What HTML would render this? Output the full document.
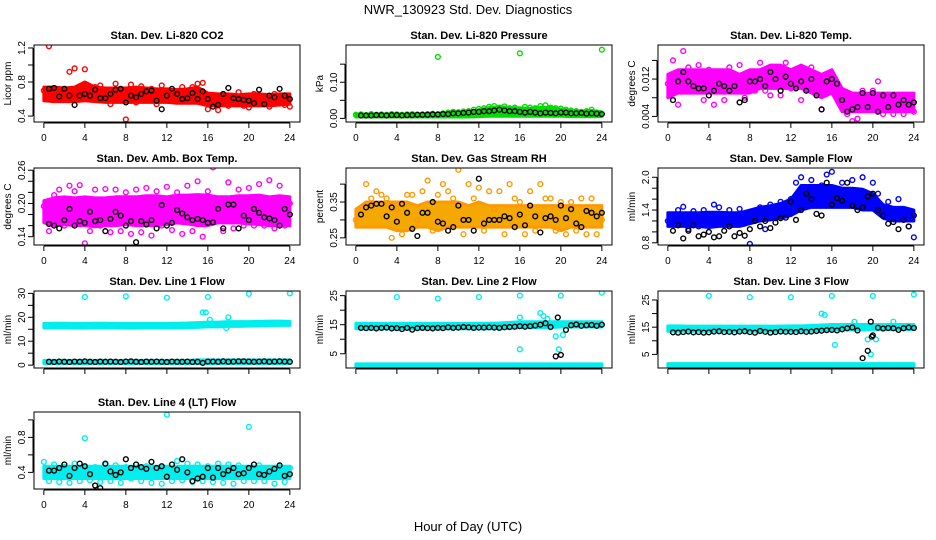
<!DOCTYPE html>
<html><head><meta charset="utf-8"><style>
html,body{margin:0;padding:0;background:#fff;}
svg{display:block;font-family:"Liberation Sans",Arial,sans-serif;}
</style></head><body>
<svg id="chart" width="936" height="540" viewBox="0 0 936 540" xmlns="http://www.w3.org/2000/svg">
<text x="468" y="14" text-anchor="middle" font-size="13">NWR_130923  Std. Dev. Diagnostics</text>
<text x="468" y="531" text-anchor="middle" font-size="13">Hour of Day (UTC)</text>
</svg>
<script>
// ---------- data ----------
const xTicks = [0,4,8,12,16,20,24];

const co2Lo = [0.58,0.57,0.57,0.57,0.58,0.57,0.56,0.56,0.56,0.56,0.56,0.56,0.56,0.55,0.55,0.55,0.52,0.52,0.52,0.52,0.52,0.52,0.52,0.53,0.54];
const co2Hi = [0.74,0.74,0.73,0.74,0.80,0.74,0.73,0.73,0.73,0.74,0.73,0.72,0.72,0.71,0.72,0.74,0.67,0.66,0.66,0.65,0.66,0.66,0.65,0.66,0.66];
const co2Pts = [0.70,1.22,0.62,0.66,0.72,0.92,0.96,0.70,0.95,0.66,0.74,0.76,0.60,0.54,0.78,0.69,0.36,0.77,0.56,0.75,0.63,0.72,0.54,0.76,0.70,0.66,0.59,0.74,0.62,0.74,0.78,0.79,0.48,0.62,0.47,0.58,0.52,0.62,0.68,0.52,0.50,0.66,0.58,0.62,0.51,0.66,0.56,0.53,0.51];
const co2Black = [0.72,0.73,0.63,0.72,0.64,0.53,0.64,0.66,0.64,0.71,0.61,0.61,0.66,0.71,0.72,0.56,0.64,0.62,0.66,0.69,0.70,0.58,0.48,0.64,0.72,0.66,0.60,0.61,0.67,0.60,0.69,0.60,0.51,0.53,0.66,0.73,0.61,0.60,0.59,0.58,0.55,0.71,0.54,0.64,0.62,0.72,0.64,0.60];

const presLo = [0.004,0.004,0.004,0.004,0.004,0.004,0.004,0.004,0.004,0.004,0.004,0.004,0.005,0.006,0.006,0.006,0.006,0.006,0.006,0.006,0.006,0.005,0.005,0.005,0.005];
const presHi = [0.012,0.012,0.012,0.012,0.012,0.012,0.012,0.013,0.014,0.016,0.018,0.020,0.024,0.030,0.032,0.030,0.029,0.028,0.030,0.030,0.026,0.022,0.020,0.022,0.018];
const presPts = [0.010,0.011,0.009,0.012,0.010,0.011,0.010,0.012,0.011,0.010,0.011,0.012,0.010,0.011,0.012,0.013,0.17,0.014,0.016,0.018,0.017,0.019,0.020,0.024,0.026,0.028,0.032,0.034,0.030,0.033,0.028,0.030,0.18,0.032,0.030,0.028,0.034,0.036,0.030,0.028,0.027,0.024,0.022,0.020,0.018,0.020,0.024,0.016,0.19];
const presBlack = [0.008,0.008,0.008,0.009,0.009,0.008,0.009,0.009,0.008,0.009,0.009,0.010,0.010,0.010,0.011,0.011,0.012,0.012,0.014,0.014,0.015,0.016,0.018,0.018,0.020,0.020,0.022,0.024,0.022,0.020,0.020,0.018,0.016,0.018,0.016,0.014,0.016,0.015,0.014,0.016,0.016,0.014,0.014,0.015,0.013,0.014,0.013,0.012];

const tempLo = [0.008,0.009,0.009,0.009,0.009,0.009,0.009,0.009,0.009,0.010,0.010,0.010,0.010,0.010,0.009,0.008,0.009,0.005,0.005,0.005,0.005,0.005,0.005,0.005,0.005];
const tempHi = [0.013,0.014,0.014,0.014,0.014,0.014,0.014,0.013,0.014,0.014,0.015,0.015,0.014,0.015,0.014,0.013,0.014,0.010,0.009,0.009,0.009,0.009,0.009,0.009,0.009];
const tempPts = [0.011,0.016,0.0065,0.018,0.0145,0.013,0.015,0.0075,0.014,0.0065,0.012,0.0075,0.0145,0.011,0.015,0.008,0.0125,0.0095,0.0155,0.0095,0.0085,0.0145,0.0085,0.0155,0.010,0.0125,0.0075,0.012,0.0145,0.0085,0.0055,0.009,0.011,0.008,0.0065,0.0045,0.0030,0.0035,0.0095,0.0055,0.0095,0.0115,0.0045,0.0065,0.0045,0.0075,0.0045,0.0065,0.0050];
const tempBlack = [0.0075,0.0115,0.0135,0.0115,0.0105,0.010,0.010,0.0085,0.0095,0.011,0.0105,0.0095,0.0105,0.007,0.0075,0.0115,0.0115,0.012,0.0105,0.0135,0.012,0.0095,0.0125,0.011,0.010,0.0115,0.0095,0.0120,0.0085,0.0055,0.0115,0.0120,0.0110,0.0075,0.0050,0.0055,0.0060,0.0090,0.0060,0.0090,0.0050,0.0085,0.0060,0.0085,0.0065,0.0075,0.0065,0.0070];

const ambLo = [0.165,0.160,0.162,0.160,0.160,0.158,0.160,0.160,0.162,0.160,0.160,0.160,0.162,0.165,0.163,0.160,0.160,0.165,0.165,0.165,0.163,0.162,0.160,0.160,0.160];
const ambHi = [0.205,0.210,0.212,0.210,0.212,0.210,0.210,0.212,0.212,0.212,0.214,0.214,0.212,0.215,0.215,0.216,0.215,0.212,0.212,0.214,0.214,0.215,0.212,0.214,0.212];
const ambPts = [0.195,0.150,0.215,0.225,0.160,0.232,0.222,0.233,0.128,0.150,0.225,0.160,0.226,0.148,0.225,0.150,0.220,0.145,0.225,0.148,0.228,0.142,0.222,0.160,0.230,0.152,0.220,0.145,0.232,0.150,0.240,0.140,0.222,0.265,0.170,0.150,0.238,0.155,0.225,0.160,0.228,0.160,0.235,0.160,0.242,0.155,0.232,0.160,0.200];
const ambBlack = [0.163,0.160,0.155,0.170,0.190,0.160,0.168,0.165,0.185,0.168,0.170,0.150,0.172,0.185,0.178,0.160,0.168,0.130,0.168,0.162,0.170,0.155,0.197,0.160,0.165,0.188,0.182,0.175,0.170,0.172,0.170,0.165,0.166,0.190,0.155,0.198,0.198,0.155,0.178,0.170,0.190,0.183,0.175,0.173,0.170,0.160,0.190,0.180];

const rhLo = [0.28,0.28,0.28,0.28,0.27,0.27,0.28,0.28,0.27,0.28,0.28,0.28,0.28,0.28,0.28,0.28,0.28,0.28,0.28,0.28,0.27,0.28,0.28,0.28,0.28];
const rhHi = [0.33,0.35,0.35,0.35,0.35,0.35,0.34,0.35,0.35,0.35,0.35,0.34,0.35,0.34,0.34,0.34,0.34,0.34,0.34,0.34,0.34,0.34,0.34,0.34,0.34];
const rhPts = [0.30,0.33,0.40,0.36,0.38,0.37,0.36,0.25,0.33,0.26,0.37,0.37,0.30,0.38,0.41,0.27,0.37,0.40,0.38,0.36,0.44,0.26,0.40,0.36,0.39,0.27,0.38,0.33,0.38,0.26,0.40,0.36,0.35,0.26,0.38,0.27,0.40,0.36,0.36,0.27,0.35,0.26,0.35,0.27,0.36,0.26,0.36,0.26,0.30];
const rhBlack = [0.315,0.335,0.340,0.345,0.345,0.31,0.335,0.295,0.345,0.32,0.275,0.255,0.32,0.32,0.35,0.295,0.29,0.27,0.28,0.34,0.30,0.30,0.27,0.415,0.29,0.30,0.30,0.30,0.31,0.305,0.28,0.315,0.285,0.34,0.31,0.265,0.305,0.31,0.30,0.34,0.305,0.33,0.29,0.28,0.325,0.32,0.31,0.32];

const flowLo = [1.10,1.10,1.10,1.10,1.08,1.10,1.10,1.10,1.15,1.20,1.22,1.25,1.30,1.40,1.45,1.45,1.45,1.45,1.45,1.40,1.40,1.25,1.20,1.20,1.20];
const flowHi = [1.35,1.35,1.35,1.35,1.36,1.36,1.35,1.35,1.40,1.45,1.48,1.52,1.60,1.85,1.85,1.85,1.85,1.80,1.80,1.78,1.70,1.50,1.45,1.45,1.40];
const flowPts = [1.20,1.30,1.40,1.46,1.05,1.38,1.10,1.40,1.12,1.50,1.45,1.20,1.40,1.18,1.42,1.15,0.78,1.30,1.45,1.05,1.50,1.25,1.55,1.30,1.60,1.90,2.00,1.50,1.95,1.60,1.85,2.05,2.10,1.60,1.90,1.70,1.95,1.55,2.00,1.50,1.90,1.70,1.30,1.55,1.40,1.60,1.30,1.10,0.90];
const flowBlack = [1.02,1.12,0.88,1.02,1.12,0.92,0.95,1.00,0.90,0.92,1.02,1.10,0.92,0.98,0.93,1.05,1.20,1.10,1.20,1.07,1.17,1.25,1.26,1.55,1.22,1.40,1.70,1.60,1.33,1.30,1.90,1.50,1.62,1.57,1.90,1.48,1.40,1.45,1.65,1.70,1.40,1.30,1.15,1.18,1.05,1.22,1.10,1.30];

const l1Lo = [15.6,15.6,15.6,15.5,15.5,15.6,15.6,15.6,15.5,15.5,15.6,15.6,15.6,15.6,15.7,15.8,16.0,16.0,16.2,16.2,16.3,16.4,16.5,16.6,16.6];
const l1Hi = [17.4,17.5,17.5,17.4,17.4,17.5,17.5,17.4,17.4,17.4,17.4,17.4,17.4,17.5,17.6,17.8,18.0,18.0,18.2,18.2,18.2,18.3,18.4,18.4,18.3];
const l1BaseLo = [0.7,0.7,0.7,0.7,0.7,0.7,0.7,0.7,0.7,0.7,0.7,0.7,0.7,0.7,0.7,0.7,0.7,0.7,0.7,0.7,0.7,0.7,0.7,0.7,0.7];
const l1BaseHi = [2.0,2.0,2.0,2.0,2.0,2.0,2.0,2.0,2.0,2.0,2.0,2.0,2.0,2.0,2.0,2.2,2.2,2.2,2.2,2.2,2.2,2.2,2.2,2.2,2.2];
const l1OutH = [4,8,12,15.5,15.8,16,16.2,17.8,18,20,24];
const l1OutV = [28.5,28.8,28.2,22,22,28.5,19,15.5,20,29.8,30];
const l1Black = [1.4,1.3,1.5,1.4,1.3,1.5,1.4,1.6,1.4,1.3,1.5,1.4,1.5,1.4,1.3,1.5,1.6,1.4,1.3,1.5,1.4,1.5,1.4,1.3,1.5,1.4,1.4,1.5,1.3,1.4,0.9,1.5,1.5,1.4,1.6,1.4,1.5,1.6,1.6,1.5,1.4,1.5,1.6,1.4,1.5,1.6,1.5,1.4];

const l2Lo = [13.6,13.6,13.6,13.6,13.6,13.6,13.6,13.6,13.6,13.6,13.6,13.6,13.6,13.6,13.7,13.8,14.0,14.0,14.0,14.0,14.2,14.2,14.2,14.2,14.2];
const l2Hi = [15.5,15.4,15.4,15.4,15.4,15.4,15.4,15.4,15.4,15.4,15.4,15.4,15.5,15.5,15.6,15.8,16.0,16.0,16.0,16.0,16.0,16.0,16.0,16.0,16.0];
const l2BaseLo = [0.6,0.6,0.6,0.6,0.6,0.6,0.6,0.6,0.6,0.6,0.6,0.6,0.6,0.6,0.6,0.6,0.6,0.6,0.6,0.6,0.6,0.6,0.6,0.6,0.6];
const l2BaseHi = [1.5,1.5,1.5,1.5,1.5,1.5,1.5,1.5,1.5,1.5,1.5,1.5,1.5,1.5,1.5,1.5,1.5,1.5,1.5,1.5,1.5,1.5,1.5,1.5,1.5];
const l2OutH = [4,8,12,16,16,16,18,18.3,18.7,19.5,19.8,20,20.2,24];
const l2OutV = [24.5,24,24.5,25,17.5,6.5,19,18,17,11,6.5,25,11.5,26];
const l2Black = [13.9,13.8,13.9,13.7,13.9,14.0,13.7,13.8,13.5,13.9,13.3,13.8,13.9,13.8,13.7,13.9,13.8,14.1,13.9,14.0,14.2,14.1,13.9,14.0,14.0,14.1,14.0,13.9,14.1,14.2,14.3,14.5,14.3,14.5,14.7,15.0,15.5,14.2,4.1,4.6,13.2,14.8,15.1,14.6,14.8,14.9,14.6,15.0];
const l2BlackOutH = [19.7];
const l2BlackOutV = [17.5];

const l3Lo = [13.5,13.5,13.5,13.5,13.5,13.5,13.5,13.5,13.5,13.5,13.5,13.5,13.5,13.5,13.6,13.8,14.0,14.0,14.0,14.0,14.2,14.2,14.2,14.2,14.2];
const l3Hi = [15.5,15.5,15.4,15.4,15.4,15.4,15.4,15.4,15.4,15.4,15.4,15.4,15.5,15.5,15.6,15.8,16.0,16.0,16.0,16.0,16.0,16.0,16.0,16.0,16.0];
const l3BaseLo = [0.7,0.7,0.7,0.7,0.7,0.7,0.7,0.7,0.7,0.7,0.7,0.7,0.7,0.7,0.7,0.7,0.7,0.7,0.7,0.7,0.7,0.7,0.7,0.7,0.7];
const l3BaseHi = [1.6,1.6,1.6,1.6,1.6,1.6,1.6,1.6,1.6,1.6,1.6,1.6,1.6,1.6,1.6,1.6,1.6,1.6,1.6,1.6,1.6,1.6,1.6,1.6,1.6];
const l3OutH = [4,8,12,15,15.3,16,16.3,18.2,19.5,19.8,20,20.3,22,24];
const l3OutV = [26.5,26,26,20,19.5,26.5,8.5,17,10.5,5,26.5,10.5,17,27];
const l3Black = [13.1,13.0,13.2,13.4,13.1,13.2,13.0,13.1,13.4,13.5,13.2,13.3,13.1,13.4,13.5,13.2,13.0,13.6,13.3,13.0,13.2,13.4,13.3,13.3,13.2,13.5,13.3,13.4,13.6,13.7,13.9,14.0,13.8,14.2,14.6,14.9,13.8,3.6,6.3,12.0,14.8,14.5,14.7,14.6,14.0,14.6,14.9,14.7];
const l3BlackOutH = [19.8,19.9];
const l3BlackOutV = [17.0,11.5];

const l4Lo = [0.33,0.33,0.33,0.33,0.33,0.33,0.33,0.33,0.33,0.33,0.33,0.33,0.33,0.33,0.33,0.33,0.33,0.33,0.33,0.33,0.33,0.33,0.33,0.33,0.33];
const l4Hi = [0.47,0.47,0.47,0.47,0.47,0.47,0.47,0.47,0.47,0.47,0.47,0.47,0.47,0.47,0.47,0.47,0.47,0.47,0.47,0.47,0.47,0.47,0.47,0.47,0.47];
const l4Pts = [0.52,0.30,0.49,0.29,0.46,0.28,0.50,0.30,0.79,0.31,0.46,0.29,0.49,0.30,0.48,0.28,0.46,0.33,0.49,0.30,0.47,0.28,0.45,0.27,1.06,0.30,0.53,0.31,0.50,0.29,0.49,0.30,0.47,0.29,0.50,0.28,0.49,0.27,0.48,0.30,0.92,0.30,0.48,0.30,0.45,0.27,0.47,0.29,0.45];
const l4Black = [0.42,0.42,0.45,0.49,0.36,0.45,0.50,0.47,0.38,0.25,0.22,0.50,0.41,0.37,0.40,0.55,0.45,0.49,0.46,0.44,0.52,0.45,0.47,0.35,0.49,0.43,0.55,0.40,0.30,0.33,0.35,0.45,0.34,0.45,0.38,0.42,0.45,0.38,0.39,0.45,0.49,0.38,0.37,0.41,0.44,0.48,0.36,0.38];

// tick arrays
const co2Ticks=[0.4,0.6,0.8,1.0,1.2], co2Labels=["0.4","","0.8","","1.2"];
const presTicks=[0,0.05,0.10,0.15], presLabels=["0.00","","0.10",""];
const tempTicks=[0.004,0.008,0.012,0.016], tempLabels=["0.004","","0.012",""];
const ambTicks=[0.14,0.16,0.18,0.20,0.22,0.24,0.26], ambLabels=["0.14","","","0.20","","","0.26"];
const rhTicks=[0.25,0.30,0.35,0.40], rhLabels=["0.25","","0.35",""];
const flowTicks=[0.8,1.0,1.2,1.4,1.6,1.8,2.0], flowLabels=["0.8","","","1.4","","","2.0"];
const l1Ticks=[0,5,10,15,20,25,30], l1Labels=["0","","10","","20","","30"];
const l23Ticks=[5,10,15,20,25], l23Labels=["5","","15","","25"];
const l4Ticks=[0.4,0.6,0.8,1.0], l4Labels=["0.4","","0.8",""];

// ---------- drawing ----------
const NS="http://www.w3.org/2000/svg";
const svg=document.getElementById('chart');
function mk(tag,attrs,parent){const e=document.createElementNS(NS,tag);for(const k in attrs)e.setAttribute(k,attrs[k]);(parent||svg).appendChild(e);return e;}

const panels=[
 {id:'co2',col:0,row:0,title:'Stan. Dev. Li-820 CO2',ylab:'Licor ppm',ymin:0.33,ymax:1.235,ticks:co2Ticks,labels:co2Labels,color:'#ff0000',bands:[[co2Lo,co2Hi]],pts:co2Pts,black:co2Black,xl:true},
 {id:'pressure',col:1,row:0,title:'Stan. Dev. Li-820 Pressure',ylab:'kPa',ymin:-0.01,ymax:0.203,ticks:presTicks,labels:presLabels,color:'#00dd00',bands:[[presLo,presHi]],pts:presPts,black:presBlack,xl:true},
 {id:'temp',col:2,row:0,title:'Stan. Dev. Li-820 Temp.',ylab:'degrees C',ymin:0.0028,ymax:0.0193,ticks:tempTicks,labels:tempLabels,color:'#ff00ff',bands:[[tempLo,tempHi]],pts:tempPts,black:tempBlack,xl:true},
 {id:'amb',col:0,row:1,title:'Stan. Dev. Amb. Box Temp.',ylab:'degrees C',ymin:0.125,ymax:0.264,ticks:ambTicks,labels:ambLabels,color:'#ff00ff',bands:[[ambLo,ambHi]],pts:ambPts,black:ambBlack,xl:true},
 {id:'rh',col:1,row:1,title:'Stan. Dev. Gas Stream RH',ylab:'percent',ymin:0.23,ymax:0.445,ticks:rhTicks,labels:rhLabels,color:'#ff9900',fill:'#f5a800',bands:[[rhLo,rhHi]],pts:rhPts,black:rhBlack,xl:true},
 {id:'sample-flow',col:2,row:1,title:'Stan. Dev. Sample Flow',ylab:'ml/min',ymin:0.76,ymax:2.17,ticks:flowTicks,labels:flowLabels,color:'#0000ff',bands:[[flowLo,flowHi]],pts:flowPts,black:flowBlack,xl:true},
 {id:'line1',col:0,row:2,title:'Stan. Dev. Line 1 Flow',ylab:'ml/min',ymin:-1.2,ymax:31,ticks:l1Ticks,labels:l1Labels,color:'#00eeee',bands:[[l1Lo,l1Hi],[l1BaseLo,l1BaseHi]],outH:l1OutH,outV:l1OutV,black:l1Black,xl:false},
 {id:'line2',col:1,row:2,title:'Stan. Dev. Line 2 Flow',ylab:'ml/min',ymin:0.1,ymax:26.6,ticks:l23Ticks,labels:l23Labels,color:'#00eeee',bands:[[l2Lo,l2Hi],[l2BaseLo,l2BaseHi]],outH:l2OutH,outV:l2OutV,black:l2Black,bOutH:l2BlackOutH,bOutV:l2BlackOutV,xl:false},
 {id:'line3',col:2,row:2,title:'Stan. Dev. Line 3 Flow',ylab:'ml/min',ymin:0.0,ymax:28.3,ticks:l23Ticks,labels:l23Labels,color:'#00eeee',bands:[[l3Lo,l3Hi],[l3BaseLo,l3BaseHi]],outH:l3OutH,outV:l3OutV,black:l3Black,bOutH:l3BlackOutH,bOutV:l3BlackOutV,xl:false},
 {id:'line4',col:0,row:3,title:'Stan. Dev. Line 4 (LT) Flow',ylab:'ml/min',ymin:0.21,ymax:1.09,ticks:l4Ticks,labels:l4Labels,color:'#00eeee',bands:[[l4Lo,l4Hi]],pts:l4Pts,black:l4Black,xl:true}
];

const BW=266,BH=77;
panels.forEach(p=>{
  const L=34+312*p.col, T=[45,168,291,412][p.row], B=T+BH;
  const xs=h=>L+9.85+h*246/24;
  const ys=v=>B-(v-p.ymin)/(p.ymax-p.ymin)*BH;
  const g=mk('g',{});
  
  
  const clipId='clip-'+p.id;
  const cp=mk('clipPath',{id:clipId},g); mk('rect',{x:L,y:T,width:BW,height:BH},cp);
  const plot=mk('g',{'clip-path':'url(#'+clipId+')'},g);
  const t=mk('text',{x:L+BW/2,y:T-6,'text-anchor':'middle','font-size':'11','font-weight':'bold'},g); t.textContent=p.title;
  
  
  p.bands.forEach((bd,bi)=>{
    const lo=bd[0],hi=bd[1];let pts=[];
    hi.forEach((v,i)=>pts.push(xs(i)+','+ys(v)));
    for(let i=lo.length-1;i>=0;i--)pts.push(xs(i)+','+ys(lo[i]));
    const poly=mk('polygon',{points:pts.join(' '),fill:p.fill||p.color,stroke:p.color,'stroke-width':'3','stroke-linejoin':'round'},plot);
    
    
  });
  const circ=(h,v,c)=>{const e=mk('circle',{cx:xs(h),cy:ys(v),r:2.4,fill:'none',stroke:c,'stroke-width':'1.4'},plot);return e;};
  if(p.pts) p.pts.forEach((v,i)=>{const e=circ(i*0.5,v,p.color);
    
    });
  if(p.outH) p.outH.forEach((h,i)=>{const e=circ(h,p.outV[i],p.color);
    
    });
  p.black.forEach((v,i)=>{const e=circ((i+1)*0.5,v,'#000');
    
    });
  if(p.bOutH) p.bOutH.forEach((h,i)=>{const e=circ(h,p.bOutV[i],'#000');
    
    });
  const box=mk('rect',{x:L,y:T,width:BW,height:BH,fill:'none',stroke:'#000','stroke-width':'1'},g);
  
  
  mk('line',{x1:xs(0),x2:xs(24),y1:B+1,y2:B+1,stroke:'#000'},g);
  xTicks.forEach(h=>{mk('line',{x1:xs(h),x2:xs(h),y1:B+1,y2:B+6,stroke:'#000'},g);
    if(p.xl){const tx=mk('text',{x:xs(h),y:B+19,'text-anchor':'middle','font-size':'10'},g);tx.textContent=h;
      
      }});
  const yt=p.ticks;
  mk('line',{x1:L-1,x2:L-1,y1:ys(yt[0]),y2:ys(yt[yt.length-1]),stroke:'#000'},g);
  yt.forEach((v,i)=>{const y=ys(v);mk('line',{x1:L-6,x2:L-1,y1:y,y2:y,stroke:'#000'},g);
    if(p.labels[i]){const tx=mk('text',{x:0,y:0,'text-anchor':'middle','font-size':'10',transform:'translate('+(L-9)+','+y+') rotate(-90)'},g);tx.textContent=p.labels[i];
      
      }});
  const yl=mk('text',{x:0,y:0,'text-anchor':'middle','font-size':'10',transform:'translate('+(L-23)+','+(T+BH/2)+') rotate(-90)'},g);yl.textContent=p.ylab;
  
  
});
</script>
</body></html>
